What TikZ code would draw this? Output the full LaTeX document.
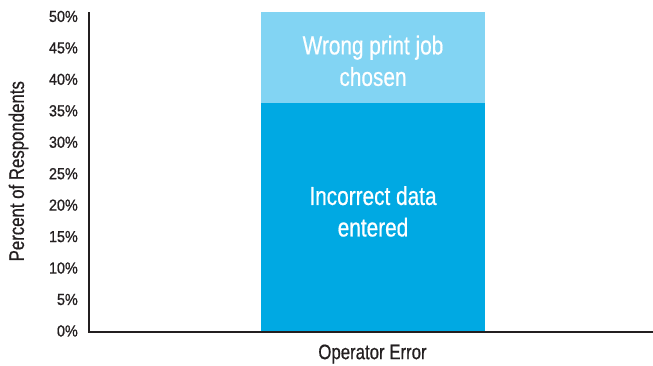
\documentclass[tikz,border=0pt]{standalone}
\usepackage{fontspec}
\setmainfont{Liberation Sans}[FakeStretch=0.8,FakeBold=0.6]
\newfontfamily\tickfont{Liberation Sans}[FakeStretch=0.9,FakeBold=0.8]
\usepackage{tikz}
\definecolor{errdark}{HTML}{00A9E3}
\definecolor{errlight}{HTML}{82D4F3}
\definecolor{axisblack}{HTML}{231F20}

\begin{document}
\begin{tikzpicture}[x=1pt,y=6.38pt,
    ticklabel/.style={anchor=east,inner sep=0pt,text=axisblack,
      font=\tickfont\fontsize{16}{16}\selectfont},
    barlabel/.style={white,align=center,inner sep=0pt,
      font=\fontsize{26}{31.5}\selectfont}]
  \useasboundingbox (-89pt,-34pt) rectangle (564pt,332pt);
  \coordinate (O) at (0,0);
  \coordinate (T) at (0,50.15);
  \coordinate (R) at (564,0);
  \coordinate (BL) at (172,0);
  \coordinate (BM) at (396,35.9);
  \coordinate (BS) at (172,35.9);
  \coordinate (BT) at (396,50.15);
  % bar: operator error
  \fill[errdark] (BL) rectangle (BM);
  \fill[errlight] (BS) rectangle (BT);
  \node[barlabel] (wrong) at (284,42.5) {Wrong print job\\chosen};
  \node[barlabel] (incorrect) at (284,18.9) {Incorrect data\\entered};
  % axes
  \draw[axisblack,line width=1.6pt] (T) -- (O) -- (R);
  \foreach \v in {0,5,...,50}
    \node[ticklabel] (tick\v) at ({-11},{0.986*\v+0.16}) {\v\%};
  \node[rotate=90,text=axisblack,font=\fontsize{21}{21}\selectfont]
    (ytitle) at (-70.5,25.2) {Percent of Respondents};
  \node[text=axisblack,font=\fontsize{21}{21}\selectfont]
    (xtitle) at (283.5,-3.45) {Operator Error};
\end{tikzpicture}
\end{document}
